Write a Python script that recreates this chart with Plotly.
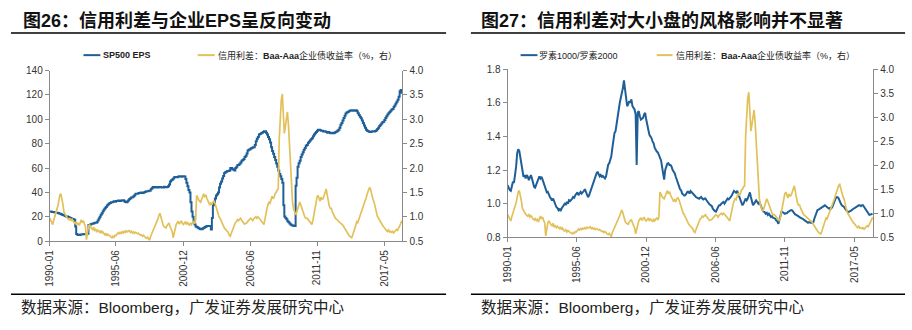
import pandas as pd
import plotly.graph_objects as go

# Moody's Baa-Aaa spread (%), monthly 1990-01 .. 2018-10
spread = [
    0.97, 0.92, 0.88, 0.84, 0.93, 1.00, 1.07, 1.12, 1.22, 1.33, 1.45, 1.47,
    1.38, 1.25, 1.10, 1.05, 1.02, 0.98, 0.96, 0.94, 0.97, 0.92, 0.95, 0.90,
    0.88, 0.86, 0.90, 0.84, 0.87, 0.82, 0.90, 0.94, 0.88, 0.92, 0.85, 0.80,
    0.53, 0.72, 0.80, 0.84, 0.78, 0.76, 0.74, 0.79, 0.72, 0.74, 0.70, 0.73,
    0.70, 0.68, 0.72, 0.66, 0.69, 0.64, 0.63, 0.66, 0.61, 0.64, 0.62, 0.60,
    0.59, 0.57, 0.60, 0.58, 0.62, 0.61, 0.64, 0.67, 0.65, 0.68, 0.66, 0.69,
    0.67, 0.70, 0.68, 0.71, 0.69, 0.70, 0.72, 0.68, 0.70, 0.67, 0.69, 0.66,
    0.68, 0.67, 0.65, 0.66, 0.64, 0.62, 0.63, 0.60, 0.62, 0.58, 0.57, 0.56,
    0.58, 0.54, 0.52, 0.60, 0.65, 0.70, 0.75, 0.79, 0.84, 0.87, 0.95, 1.02,
    1.07, 1.00, 0.90, 0.84, 0.80, 0.78, 0.77, 0.82, 0.85, 0.87, 0.80, 0.75,
    0.70, 0.57, 0.68, 0.80, 0.84, 0.88, 0.90, 0.85, 0.88, 0.92, 0.86, 0.84,
    0.87, 0.90, 0.84, 0.88, 0.86, 0.82, 0.87, 0.84, 0.88, 0.90, 0.86, 0.92,
    1.44, 1.38, 1.35, 1.32, 1.30, 1.36, 1.42, 1.47, 1.40, 1.45, 1.38, 1.33,
    1.30, 1.24, 1.28, 1.25, 1.30, 1.32, 1.28, 1.20, 1.10, 1.05, 1.00, 0.97,
    0.92, 0.85, 0.80, 0.78, 0.75, 0.72, 0.70, 0.68, 0.62, 0.60, 0.66, 0.72,
    0.77, 0.82, 0.88, 0.90, 0.94, 0.92, 0.96, 0.97, 0.93, 0.90, 0.88, 0.85,
    0.86, 0.87, 0.90, 0.92, 0.94, 0.97, 0.95, 0.92, 0.96, 0.98, 1.00, 0.97,
    1.00, 0.98, 0.96, 0.94, 0.90, 0.87, 0.84, 0.95, 1.10, 1.17, 1.25, 1.30,
    1.28, 1.35, 1.42, 1.37, 1.40, 1.48, 1.50, 1.55, 1.57, 2.60, 3.10, 3.40,
    3.52, 3.00, 2.71, 2.85, 3.05, 3.15, 2.90, 2.45, 2.00, 1.60, 1.30, 1.17,
    1.10, 1.04, 1.08, 1.15, 1.22, 1.30, 1.25, 1.18, 1.10, 1.05, 1.00, 0.97,
    0.97, 0.95, 0.92, 0.90, 0.86, 0.84, 0.92, 1.05, 1.20, 1.32, 1.40, 1.44,
    1.38, 1.32, 1.40, 1.36, 1.37, 1.45, 1.50, 1.57, 1.45, 1.30, 1.22, 1.17,
    1.17, 1.10, 1.05, 1.00, 0.97, 0.95, 0.93, 0.90, 0.88, 0.86, 0.85, 0.84,
    0.80, 0.76, 0.72, 0.70, 0.66, 0.63, 0.60, 0.58, 0.57, 0.62, 0.68, 0.75,
    0.82, 0.90, 0.88, 0.94, 0.98, 1.05, 1.10, 1.17, 1.25, 1.30, 1.38, 1.45,
    1.52, 1.58, 1.60, 1.50, 1.42, 1.35, 1.30, 1.20, 1.10, 1.02, 0.98, 0.94,
    0.90, 0.88, 0.84, 0.80, 0.78, 0.76, 0.72, 0.70, 0.73, 0.69, 0.70, 0.68,
    0.70, 0.67, 0.69, 0.72, 0.74, 0.72, 0.76, 0.80, 0.86, 0.92,
]

# SP500 EPS, monthly 1990-01 .. 2018-10
eps = [
    24.3, 24.3, 24.0, 24.0, 23.6, 23.6, 23.3, 23.3, 23.0, 22.7, 22.4, 22.0,
    21.7, 21.4, 21.0, 20.7, 20.3, 20.3, 19.8, 19.4, 19.0, 18.6, 18.2, 17.9,
    17.6, 12.0, 5.8, 5.2, 5.0, 5.0, 5.4, 5.4, 5.6, 5.6, 5.8, 5.8,
    6.0, 6.0, 13.2, 13.2, 13.8, 14.2, 14.2, 14.6, 15.0, 15.0, 15.4, 17.0,
    18.5, 20.0, 21.6, 22.8, 24.5, 26.0, 27.0, 28.0, 29.2, 30.0, 30.8, 31.2,
    32.0, 32.0, 32.4, 32.8, 32.4, 33.0, 33.0, 33.4, 33.2, 33.0, 33.4, 33.5,
    33.5, 32.8, 32.2, 32.0, 32.6, 33.6, 34.5, 35.2, 36.0, 36.0, 36.8, 37.6,
    38.8, 38.8, 38.8, 39.4, 39.4, 40.0, 40.0, 39.6, 40.0, 40.4, 40.8, 41.0,
    41.0, 41.4, 41.4, 42.5, 43.5, 44.5, 44.5, 44.0, 44.5, 44.2, 44.0, 44.5,
    44.5, 44.2, 44.0, 44.0, 44.6, 44.5, 44.3, 44.5, 45.0, 46.5, 49.0, 50.0,
    50.6, 51.5, 52.5, 52.7, 52.7, 52.5, 53.0, 53.3, 53.0, 52.8, 53.3, 53.3,
    53.0, 51.0, 48.0, 45.0, 42.0, 40.0, 32.0, 24.3, 20.0, 16.0, 13.7, 12.0,
    11.5, 11.0, 10.5, 10.0, 9.8, 9.8, 10.5, 11.0, 11.5, 12.0, 12.4, 12.4,
    12.4, 12.4, 9.5, 19.0, 29.5, 32.0, 35.0, 37.5, 38.5, 40.0, 44.0, 47.0,
    49.0, 51.5, 53.5, 56.0, 56.5, 57.0, 57.5, 57.5, 58.0, 60.0, 60.0, 59.0,
    58.5, 58.0, 60.0, 61.0, 62.5, 62.5, 63.5, 64.5, 66.0, 66.5, 67.5, 69.0,
    70.0, 72.0, 74.4, 75.0, 75.5, 76.0, 76.5, 77.0, 77.0, 79.0, 82.0, 84.0,
    85.5, 87.6, 88.0, 88.5, 89.0, 89.5, 90.2, 90.2, 89.0, 87.5, 85.5, 83.6,
    81.0, 77.0, 74.0, 71.7, 69.0, 66.5, 63.8, 61.0, 58.0, 55.0, 53.2, 51.0,
    48.0, 29.5, 20.3, 19.0, 18.0, 16.4, 15.5, 14.5, 13.7, 13.0, 12.8, 12.4,
    12.4, 45.4, 52.0, 61.0, 64.0, 66.0, 69.0, 71.0, 73.0, 75.0, 76.5, 78.3,
    79.0, 80.5, 81.5, 82.5, 83.6, 84.5, 86.0, 87.5, 88.5, 89.5, 90.5, 91.5,
    91.5, 91.0, 90.5, 90.5, 90.0, 90.2, 90.0, 89.5, 89.0, 89.5, 89.0, 88.5,
    88.5, 88.9, 88.5, 89.0, 89.5, 90.0, 90.5, 91.5, 93.0, 95.5, 97.0, 99.0,
    101.0, 103.0, 104.8, 105.5, 106.0, 106.5, 107.0, 107.4, 107.4, 107.0, 107.4, 107.0,
    107.4, 106.5, 105.0, 103.5, 102.0, 100.8, 99.0, 97.0, 95.0, 93.0, 91.5, 90.5,
    90.2, 89.8, 89.5, 89.8, 90.2, 90.2, 90.0, 90.4, 91.0, 92.0, 93.0, 94.5,
    95.5, 96.5, 97.5, 98.0, 99.5, 101.0, 102.5, 104.0, 105.0, 106.0, 107.0, 108.0,
    108.5, 110.0, 111.4, 113.0, 114.5, 116.0, 118.5, 123.0, 124.0, 121.0,
]

# Russell 1000 / Russell 2000, monthly 1990-01 .. 2018-10
ratio = [
    1.11, 1.09, 1.08, 1.076, 1.10, 1.13, 1.124, 1.16, 1.22, 1.30, 1.324, 1.314,
    1.27, 1.22, 1.181, 1.16, 1.17, 1.15, 1.17, 1.162, 1.14, 1.16, 1.17, 1.15,
    1.12, 1.10, 1.095, 1.11, 1.13, 1.15, 1.162, 1.15, 1.16, 1.143, 1.12, 1.10,
    1.09, 1.067, 1.07, 1.05, 1.04, 1.03, 1.019, 1.03, 1.01, 0.99, 0.98, 0.975,
    0.962, 0.97, 0.955, 0.971, 0.98, 0.99, 1.00, 0.995, 1.01, 1.00, 1.02, 1.015,
    1.02, 1.03, 1.04, 1.035, 1.05, 1.06, 1.067, 1.05, 1.06, 1.07, 1.06, 1.065,
    1.075, 1.086, 1.07, 1.05, 1.038, 1.05, 1.07, 1.09, 1.10, 1.124, 1.14, 1.16,
    1.18, 1.19, 1.175, 1.162, 1.17, 1.16, 1.165, 1.16, 1.15, 1.162, 1.20, 1.23,
    1.24, 1.257, 1.28, 1.33, 1.38, 1.42, 1.43, 1.48, 1.53, 1.562, 1.60, 1.63,
    1.657, 1.69, 1.733, 1.68, 1.62, 1.58, 1.59, 1.61, 1.60, 1.62, 1.58, 1.57,
    1.56, 1.53, 1.23, 1.543, 1.55, 1.52, 1.50, 1.505, 1.51, 1.53, 1.54, 1.50,
    1.46, 1.43, 1.41, 1.40, 1.39, 1.37, 1.36, 1.333, 1.32, 1.31, 1.305, 1.29,
    1.28, 1.257, 1.22, 1.18, 1.143, 1.20, 1.22, 1.238, 1.24, 1.23, 1.23, 1.22,
    1.20, 1.19, 1.181, 1.16, 1.14, 1.12, 1.10, 1.086, 1.08, 1.06, 1.055, 1.048,
    1.05, 1.06, 1.07, 1.07, 1.06, 1.075, 1.067, 1.06, 1.05, 1.045, 1.04, 1.035,
    1.03, 1.029, 1.035, 1.04, 1.03, 1.025, 1.03, 1.03, 1.02, 1.01, 1.00, 0.995,
    0.99, 0.985, 0.97, 0.96, 0.955, 0.952, 0.97, 0.98, 0.99, 0.99, 1.00, 1.005,
    1.01, 1.00, 1.01, 1.02, 1.03, 1.025, 1.03, 1.04, 1.05, 1.06, 1.076, 1.07,
    1.065, 1.076, 1.06, 1.048, 1.03, 1.01, 0.99, 1.00, 1.02, 1.03, 1.02, 1.03,
    1.05, 1.067, 1.04, 1.01, 0.99, 1.00, 1.01, 1.02, 1.01, 1.00, 1.01, 0.99,
    0.98, 0.96, 0.952, 0.95, 0.94, 0.945, 0.933, 0.94, 0.93, 0.92, 0.925, 0.915,
    0.914, 0.91, 0.90, 0.895, 0.88, 0.91, 0.93, 0.952, 0.95, 0.945, 0.94, 0.943,
    0.943, 0.95, 0.955, 0.96, 0.962, 0.96, 0.95, 0.94, 0.935, 0.933, 0.93, 0.925,
    0.92, 0.915, 0.914, 0.91, 0.905, 0.90, 0.895, 0.89, 0.886, 0.89, 0.886, 0.885,
    0.886, 0.89, 0.91, 0.93, 0.95, 0.962, 0.965, 0.97, 0.975, 0.98, 0.985, 0.99,
    0.99, 0.985, 0.98, 0.975, 0.97, 0.975, 0.971, 0.98, 1.00, 1.02, 1.03, 1.038,
    1.038, 1.03, 1.01, 1.00, 0.99, 0.985, 0.981, 0.97, 0.96, 0.955, 0.95, 0.952,
    0.955, 0.96, 0.965, 0.97, 0.971, 0.975, 0.98, 0.985, 0.99, 0.99, 0.985, 0.99,
    0.99, 0.98, 0.97, 0.96, 0.95, 0.94, 0.933, 0.935, 0.94, 0.94,
]

tick_dates = ["1990-01-01", "1995-06-01", "2000-12-01", "2006-06-01", "2011-11-01", "2017-05-01"]
tick_labels = ["1990-01", "1995-06", "2000-12", "2006-06", "2011-11", "2017-05"]

W, H = 912, 330
BLUE = "#1F5F98"
GOLD = "#E2C15A"
AX = "#8A8A8A"
TXT = "#333333"


def months(n):
    return pd.date_range("1990-01-01", periods=n, freq="MS")


def px(x):
    return x / W


def py(y):
    return 1 - y / H


fig = go.Figure()
fig.add_trace(go.Scatter(x=months(len(eps)), y=eps, mode="lines",
                         line=dict(color=BLUE, width=2, shape="hv"),
                         xaxis="x", yaxis="y", name="SP500 EPS"))
fig.add_trace(go.Scatter(x=months(len(spread)), y=spread, mode="lines",
                         line=dict(color=GOLD, width=1.7),
                         xaxis="x", yaxis="y2", name="信用利差"))
fig.add_trace(go.Scatter(x=months(len(ratio)), y=ratio, mode="lines",
                         line=dict(color=BLUE, width=2),
                         xaxis="x2", yaxis="y3", name="罗素1000/罗素2000"))
fig.add_trace(go.Scatter(x=months(len(spread)), y=spread, mode="lines",
                         line=dict(color=GOLD, width=1.7),
                         xaxis="x2", yaxis="y4", name="信用利差"))

xcommon = dict(type="date", range=["1990-01-01", "2018-10-22"],
               tickmode="array", tickvals=tick_dates, ticktext=tick_labels,
               tickangle=-90, ticks="outside", ticklen=4, tickcolor=AX,
               showline=True, linecolor=AX, linewidth=1, showgrid=False,
               zeroline=False, tickfont=dict(family="Liberation Sans", size=10, color=TXT))
ycommon = dict(ticks="outside", ticklen=4, tickcolor=AX, showline=True,
               linecolor=AX, linewidth=1, showgrid=False, zeroline=False,
               tickfont=dict(family="Liberation Sans", size=10, color=TXT))

fig.update_layout(
    width=W, height=H, margin=dict(l=0, r=0, t=0, b=0),
    paper_bgcolor="white", plot_bgcolor="white", showlegend=False,
    xaxis=dict(domain=[px(44), px(399)], anchor="y", **xcommon),
    yaxis=dict(domain=[py(244), py(67)], anchor="x", range=[0, 140],
               tick0=0, dtick=20, **ycommon),
    yaxis2=dict(overlaying="y", side="right", anchor="x", range=[0.5, 4.0],
                tick0=0.5, dtick=0.5, tickformat=".1f", **ycommon),
    xaxis2=dict(domain=[px(505), px(873)], anchor="y3", **xcommon),
    yaxis3=dict(domain=[py(240), py(65.5)], anchor="x2", range=[0.8, 1.8],
                tick0=0.8, dtick=0.2, tickformat=".1f", **ycommon),
    yaxis4=dict(overlaying="y3", side="right", anchor="x2", range=[0.5, 4.0],
                tick0=0.5, dtick=0.5, tickformat=".1f", **ycommon),
)

shapes = []
for x0, x1 in [(5, 443), (468, 905)]:
    for yy in (28, 299):
        shapes.append(dict(type="line", xref="paper", yref="paper",
                           x0=px(x0), x1=px(x1), y0=py(yy), y1=py(yy),
                           line=dict(color="black", width=1.5)))
for x0, x1, c in [(78, 95, BLUE), (193, 210, GOLD), (518, 535, BLUE), (655, 671, GOLD)]:
    shapes.append(dict(type="line", xref="paper", yref="paper",
                       x0=px(x0), x1=px(x1), y0=py(51), y1=py(51),
                       line=dict(color=c, width=2)))
fig.update_layout(shapes=shapes)

CJK = "Liberation Sans, Noto Sans CJK SC"


def note(x, y, text, size, color="#111111", family=CJK):
    fig.add_annotation(xref="paper", yref="paper", x=px(x), y=py(y), text=text,
                       showarrow=False, xanchor="left", yanchor="middle",
                       font=dict(family=family, size=size, color=color))


note(15, 15.5, "<b>图26：信用利差与企业EPS呈反向变动</b>", 18)
note(476, 15.5, "<b>图27：信用利差对大小盘的风格影响并不显著</b>", 18)
note(96, 51, "<b>SP500 EPS</b>", 9, "#222222")
note(211, 51, "信用利差：<b>Baa-Aaa</b>企业债收益率（%，右）", 9, "#222222")
note(535, 51, "罗素1000/罗素2000", 9, "#222222")
note(672, 51, "信用利差：<b>Baa-Aaa</b>企业债收益率（%，右）", 9, "#222222")
note(13, 313, "数据来源：Bloomberg，广发证券发展研究中心", 15.5, "#222222")
note(476, 313, "数据来源：Bloomberg，广发证券发展研究中心", 15.5, "#222222")

fig.write_html("out.html")
